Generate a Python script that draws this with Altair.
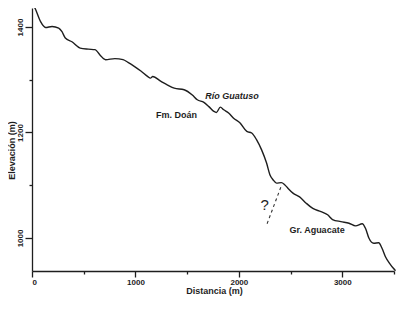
import altair as alt
import pandas as pd

# Profile (distance m, elevation m)
dist = [0, 35, 83, 131, 194, 258, 290, 322, 386, 466, 545, 610, 657, 711, 801, 880, 928,
        992, 1056, 1120, 1145, 1167, 1247, 1311, 1375, 1471, 1550, 1598, 1662, 1710, 1758,
        1783, 1821, 1854, 1901, 1949, 2012, 2077, 2124, 2172, 2220, 2268, 2300, 2332, 2364,
        2411, 2443, 2476, 2523, 2587, 2651, 2715, 2794, 2858, 2906, 2986, 3065, 3129, 3193,
        3225, 3257, 3304, 3352, 3385, 3416, 3464, 3496, 3515]
elev = [1448, 1433, 1410, 1399, 1401, 1398, 1391, 1379, 1372, 1360, 1358, 1357, 1347, 1338,
        1340, 1338, 1333, 1325, 1316, 1306, 1303, 1306, 1297, 1290, 1284, 1281, 1271, 1262,
        1257, 1249, 1240, 1238, 1248, 1243, 1237, 1227, 1218, 1202, 1199, 1186, 1167, 1142,
        1120, 1110, 1104, 1105, 1101, 1094, 1085, 1078, 1066, 1056, 1050, 1044, 1035, 1031,
        1028, 1023, 1027, 1018, 1000, 990, 991, 980, 965, 950, 942, 938]

# Dashed contact (uncertain)
contact_x = [2411, 2273]
contact_y = [1099, 1027]

# Annotations
lab_text = ["Río Guatuso", "Fm. Doán", "Gr. Aguacate", "?"]
lab_x = [1933, 1397, 2756, 2249]
lab_y = [1269, 1233, 1015, 1063]

x_ticks = [0, 500, 1000, 1500, 2000, 2500, 3000, 3500]
y_ticks = [1000, 1100, 1200, 1300, 1400]

FONT = "Liberation Sans"

prof = pd.DataFrame({"d": dist, "e": elev, "o": list(range(len(dist)))})
cont = pd.DataFrame({"d": contact_x, "e": contact_y})
labs = pd.DataFrame({"t": lab_text, "d": lab_x, "e": lab_y})

xs = alt.Scale(domain=[0, 3500], nice=False, zero=False)
ys = alt.Scale(domain=[937.4, 1436], nice=False, zero=False)

xaxis = alt.Axis(values=x_ticks, format="d", grid=False,
                 labelExpr="datum.value % 1000 === 0 ? datum.label : ''",
                 tickSize={"condition": {"test": "datum.value % 1000 === 0", "value": 6}, "value": 3},
                 labelPadding=1, title="Distancia (m)",
                 titleX=182, titleY=19, titleBaseline="middle", titleAnchor="middle")
yaxis = alt.Axis(values=y_ticks, format="d", grid=False,
                 labelExpr="datum.value % 200 === 0 ? datum.label : ''",
                 tickSize={"condition": {"test": "datum.value % 200 === 0", "value": 7}, "value": 3},
                 labelAngle=270, labelAlign="center", labelBaseline="bottom", labelPadding=1,
                 title="Elevación (m)", titleAngle=270, titleX=-21, titleY=142,
                 titleAlign="center", titleBaseline="middle")

line = alt.Chart(prof).mark_line(color="#1e1e1e", strokeWidth=1.4, clip=False, interpolate="monotone").encode(
    x=alt.X("d:Q", scale=xs, axis=xaxis),
    y=alt.Y("e:Q", scale=ys, axis=yaxis),
    order="o:Q",
)

dash = alt.Chart(cont).mark_line(color="#333333", strokeWidth=1.1, strokeDash=[3, 3]).encode(
    x=alt.X("d:Q", scale=xs),
    y=alt.Y("e:Q", scale=ys),
)

txt_rg = alt.Chart(labs[labs.t == "Río Guatuso"]).mark_text(
    font=FONT, fontSize=9, fontWeight="bold", fontStyle="italic", color="#1e1e1e"
).encode(x=alt.X("d:Q", scale=xs), y=alt.Y("e:Q", scale=ys), text="t:N")
txt_fm = alt.Chart(labs[labs.t.isin(["Fm. Doán", "Gr. Aguacate"])]).mark_text(
    font=FONT, fontSize=9, fontWeight="bold", color="#1e1e1e"
).encode(x=alt.X("d:Q", scale=xs), y=alt.Y("e:Q", scale=ys), text="t:N")
txt_q = alt.Chart(labs[labs.t == "?"]).mark_text(
    font=FONT, fontSize=15, color="#1e1e1e"
).encode(x=alt.X("d:Q", scale=xs), y=alt.Y("e:Q", scale=ys), text="t:N")

chart = alt.layer(line, dash, txt_rg, txt_fm, txt_q).properties(
    width=362, height=263,
    autosize=alt.AutoSizeParams(type="none"),
    padding={"left": 24, "top": 0, "right": 2, "bottom": 26},
    background="white",
).configure_view(stroke=None).configure_axis(
    domainColor="#1e1e1e", domainWidth=1.3, tickColor="#1e1e1e", tickWidth=1.3,
    labelFont=FONT, labelFontSize=8, labelFontWeight="bold", labelColor="#1e1e1e",
    titleFont=FONT, titleFontSize=9, titleFontWeight="bold", titleColor="#1e1e1e",
)

chart.save("out.html", embed_options={"renderer": "svg", "actions": False})
